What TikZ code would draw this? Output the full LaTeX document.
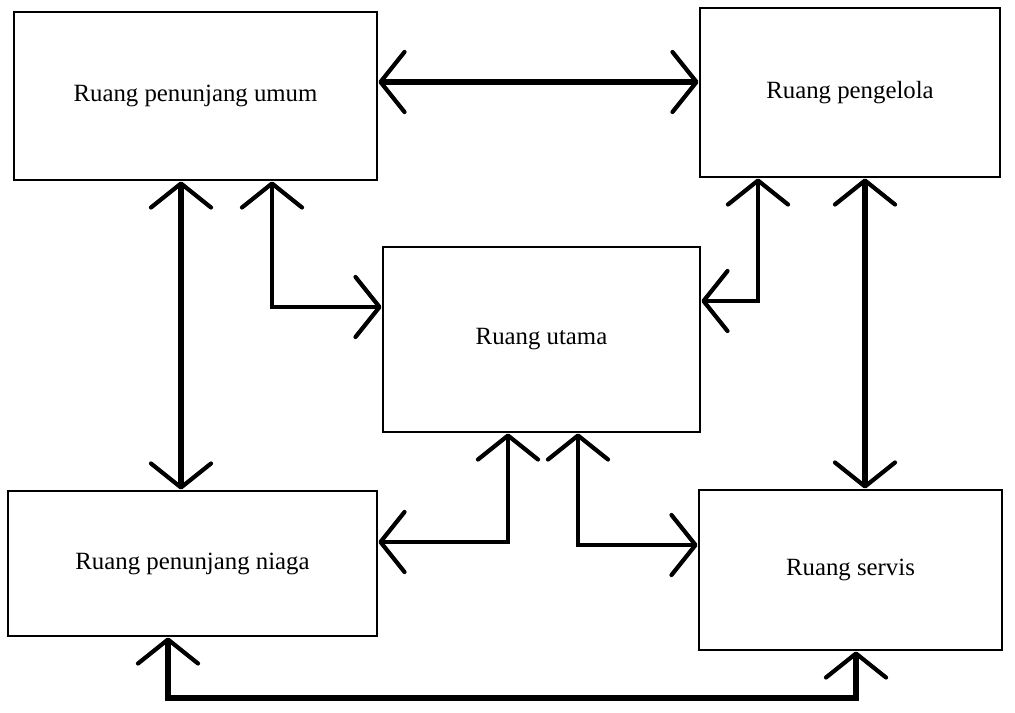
\documentclass[tikz,border=0pt]{standalone}
\usepackage{fontspec}
\setmainfont{Liberation Serif}
\usetikzlibrary{arrows.meta}
\tikzset{>={Straight Barb[length=12pt,width=30pt,round,line width=2.1pt]}}
\tikzset{ruang/.style={draw, line width=1.4pt, fill=white, inner sep=0pt},
  tebal/.style={<->, line width=3pt},
  sedang/.style={<->, line width=2pt}}

\begin{document}
\begin{tikzpicture}[x=0.5pt, y=-0.5pt, font=\fontsize{12.4}{14}\selectfont]
  \useasboundingbox (0,0) rectangle (1015,712);

  %% ruang-ruang
  \node[ruang, minimum width=181.5pt, minimum height=84pt]
  (umum) at (195.5,96) {Ruang penunjang umum};
  \node[ruang, minimum width=150pt, minimum height=84.5pt]
  (pengelola) at (850,92.5) {Ruang pengelola};
  \node[ruang, minimum width=158.5pt, minimum height=92.5pt]
  (utama) at (541.5,339.5) {Ruang utama};
  \node[ruang, minimum width=184.5pt, minimum height=72.5pt]
  (niaga) at (192.5,563.5) {Ruang penunjang niaga};
  \node[ruang, minimum width=151.5pt, minimum height=80pt]
  (servis) at (850.5,570) {Ruang servis};

  %% titik bantu
  \coordinate (kUP) at (0,82);
  \coordinate (kUN) at (181,0);
  \coordinate (kPS) at (865,0);
  \coordinate (kUU) at (272,307);
  \coordinate (kPU) at (758,301);
  \coordinate (kUN2) at (508,542);
  \coordinate (kUS) at (578,545);
  \coordinate (kNb) at (168,698);
  \coordinate (kSb) at (856,698);

  \draw[tebal] (umum.east |- kUP) -- (pengelola.west |- kUP); %% umum <-> pengelola
  \draw[tebal] (umum.south -| kUN) -- (niaga.north -| kUN); %% umum <-> niaga
  \draw[tebal] (pengelola.south -| kPS) -- (servis.north -| kPS); %% pengelola <-> servis

  \draw[sedang] (umum.south -| kUU) |- (utama.west |- kUU); %% umum <-> utama
  \draw[sedang] (pengelola.south -| kPU) |- (utama.east |- kPU); %% pengelola <-> utama
  \draw[sedang] (utama.south -| kUN2) |- (niaga.east |- kUN2); %% utama <-> niaga
  \draw[sedang] (utama.south -| kUS) |- (servis.west |- kUS); %% utama <-> servis

  \draw[tebal] (niaga.south -| kNb) -- (kNb) -- (kSb) -- (servis.south -| kSb); %% niaga <-> servis
\end{tikzpicture}
\end{document}
